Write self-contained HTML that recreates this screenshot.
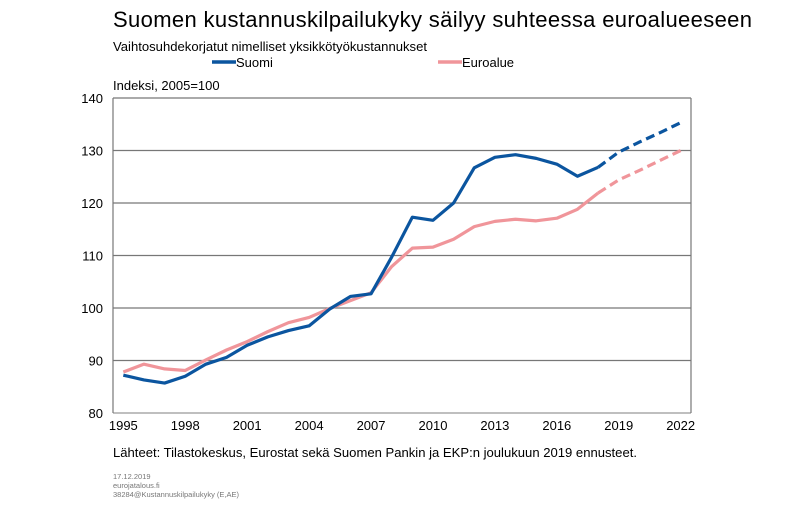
<!DOCTYPE html>
<html><head><meta charset="utf-8"><style>
body{margin:0;background:#fff;font-family:"Liberation Sans",sans-serif;}
svg text{font-family:"Liberation Sans",sans-serif;}
</style></head><body>
<svg width="800" height="522" viewBox="0 0 800 522">
<text x="113" y="27" font-size="22" fill="#000" textLength="639" lengthAdjust="spacing">Suomen kustannuskilpailukyky säilyy suhteessa euroalueeseen</text>
<text x="113" y="51" font-size="12.5" fill="#000" textLength="314" lengthAdjust="spacingAndGlyphs">Vaihtosuhdekorjatut nimelliset yksikkötyökustannukset</text>
<g><line x1="212" y1="62" x2="236" y2="62" stroke="#0b559f" stroke-width="3.5"/><text x="236" y="67" font-size="13">Suomi</text></g>
<g><line x1="438" y1="62" x2="462" y2="62" stroke="#f0959a" stroke-width="3.5"/><text x="462" y="67" font-size="13">Euroalue</text></g>
<text x="113" y="90" font-size="13">Indeksi, 2005=100</text>
<g id="grid"></g><g id="series"></g><g id="xt"></g>
<text x="113" y="457" font-size="13" textLength="524" lengthAdjust="spacingAndGlyphs">Lähteet: Tilastokeskus, Eurostat sekä Suomen Pankin ja EKP:n joulukuun 2019 ennusteet.</text>
<text x="113" y="479" font-size="7.5" fill="#777">17.12.2019</text>
<text x="113" y="488" font-size="7.5" fill="#777">eurojatalous.fi</text>
<text x="113" y="497" font-size="7.5" fill="#777">38284@Kustannuskilpailukyky  (E,AE)</text>
</svg>
<script>
const years=[1995,1996,1997,1998,1999,2000,2001,2002,2003,2004,2005,2006,2007,2008,2009,2010,2011,2012,2013,2014,2015,2016,2017,2018,2019,2020,2021,2022];
const suomi=[87.2,86.3,85.7,87.0,89.3,90.6,92.9,94.5,95.7,96.6,99.8,102.2,102.7,109.7,117.3,116.7,120.0,126.7,128.7,129.2,128.5,127.4,125.1,126.8,129.7,131.6,133.4,135.3];
const euroalue=[87.8,89.3,88.4,88.1,90.1,92.0,93.6,95.5,97.2,98.2,99.9,101.4,102.9,107.9,111.4,111.6,113.1,115.5,116.5,116.9,116.6,117.1,118.8,121.9,124.4,126.2,128.1,130.0];
const yTicks=[80,90,100,110,120,130,140];
const xTickYears=[1995,1998,2001,2004,2007,2010,2013,2016,2019,2022];
const lastActual=2018;
const L=113,R=691,T=98,B=413,ymin=80,ymax=140;
const NS='http://www.w3.org/2000/svg';
const step=(R-L)/years.length;
const xs=i=>L+step*(i+0.5);
const ys=v=>B-(v-ymin)/(ymax-ymin)*(B-T);
function mk(t,a,p){const e=document.createElementNS(NS,t);for(const k in a)e.setAttribute(k,a[k]);p.appendChild(e);return e;}
const g=document.getElementById('grid');
yTicks.forEach(v=>{
 const l=mk('line',{x1:L,x2:R,y1:ys(v),y2:ys(v),stroke:v===ymin?'#999':'#777','stroke-width':1.2},g);
 
 
 const t=mk('text',{x:L-10,y:ys(v)+5,'font-size':13,'text-anchor':'end'},g);t.textContent=v;
 
 
});
const ax=mk('line',{x1:L,x2:L,y1:T,y2:B,stroke:'#777','stroke-width':1.2},g);


const ax2=mk('line',{x1:R,x2:R,y1:T,y2:B,stroke:'#777','stroke-width':1.2},g);


const xt=document.getElementById('xt');
xTickYears.forEach(y=>{
 const i=years.indexOf(y);
 const t=mk('text',{x:xs(i),y:430,'font-size':13,'text-anchor':'middle'},xt);t.textContent=y;
 
 
});
const s=document.getElementById('series');
function draw(vals,col,name){
 const k=years.indexOf(lastActual);
 const a=vals.slice(0,k+1).map((v,i)=>xs(i)+','+ys(v)).join(' ');
 const b=vals.slice(k).map((v,j)=>xs(j+k)+','+ys(v)).join(' ');
 const p1=mk('polyline',{points:a,fill:'none',stroke:col,'stroke-width':3.2,'stroke-linejoin':'round'},s);
 
 
 const p2=mk('polyline',{points:b,fill:'none',stroke:col,'stroke-width':3.2,'stroke-dasharray':'9,5'},s);
 
 
}
draw(euroalue,'#f0959a','euroalue');
draw(suomi,'#0b559f','suomi');
</script>
</body></html>
